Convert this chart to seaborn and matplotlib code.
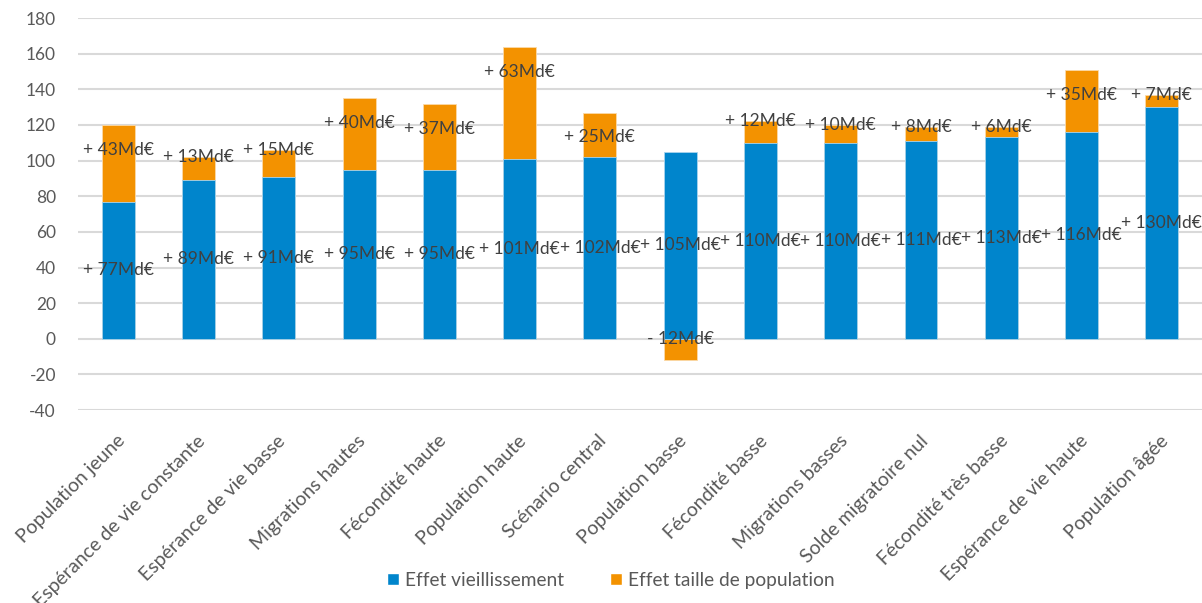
import numpy as np
import pandas as pd
import matplotlib
matplotlib.use("Agg")
import matplotlib.pyplot as plt
import matplotlib.transforms as mtransforms
from matplotlib.patches import Patch
import seaborn as sns

scenarios = [
    "Population jeune", "Espérance de vie constante", "Espérance de vie basse",
    "Migrations hautes", "Fécondité haute", "Population haute", "Scénario central",
    "Population basse", "Fécondité basse", "Migrations basses",
    "Solde migratoire nul", "Fécondité très basse", "Espérance de vie haute",
    "Population âgée",
]
effet_vieillissement = [77, 89, 91, 95, 95, 101, 102, 105, 110, 110, 111, 113, 116, 130]
effet_taille = [43, 13, 15, 40, 37, 63, 25, -12, 12, 10, 8, 6, 35, 7]
y_ticks = [-40, -20, 0, 20, 40, 60, 80, 100, 120, 140, 160, 180]

BLUE = "#0085CC"
ORANGE = "#F39200"
TEXT = "#404040"
TICK = "#595959"

sns.set_theme(style="white")
plt.rcParams["font.family"] = ["Lato", "DejaVu Sans"]
plt.rcParams["axes.unicode_minus"] = False

blue = np.array(effet_vieillissement, dtype=float)
orange = np.array(effet_taille, dtype=float)
# orange segments stack on the blue bar when positive, hang below zero when negative
orange_top = np.where(orange > 0, blue + orange, orange)

df = pd.DataFrame({"scenario": scenarios, "blue": blue, "orange_top": orange_top})

fig = plt.figure(figsize=(12.02, 6.03), dpi=100)
ax = fig.add_axes([0.065, 0.320, 0.935, 0.650])

sns.barplot(data=df, x="scenario", y="orange_top", color=ORANGE, saturation=1,
            width=0.41, ax=ax, zorder=2, edgecolor="#FBD9A8", linewidth=0.6)
sns.barplot(data=df, x="scenario", y="blue", color=BLUE, saturation=1,
            width=0.41, ax=ax, zorder=3, edgecolor="#A8D4EE", linewidth=0.6)

ax.set_ylim(-40, 180)
ax.set_xlim(-0.5, len(scenarios) - 0.5)
ax.set_yticks(y_ticks)
ax.yaxis.grid(True, color="#D9D9D9", linewidth=1.5, zorder=0)
ax.set_axisbelow(True)
for s in ax.spines.values():
    s.set_visible(False)
ax.set_xlabel("")
ax.set_ylabel("")
ax.tick_params(axis="y", length=0, pad=16, labelsize=12.5, labelcolor=TICK)
ax.tick_params(axis="x", length=0, pad=0, labelsize=14, labelcolor=TICK)

ax.set_xticks(range(len(scenarios)))
ax.set_xticklabels(scenarios, rotation=45, ha="right", rotation_mode="anchor")
shift = mtransforms.ScaledTranslation(-0.02, -0.22, fig.dpi_scale_trans)
for lab in ax.get_xticklabels():
    lab.set_transform(lab.get_transform() + shift)

# value labels
for i, (b, o) in enumerate(zip(blue, orange)):
    ax.text(i, b / 2, f"+ {int(b)}Md€", ha="center", va="center",
            fontsize=12.5, color=TEXT, zorder=5)
    if o > 0:
        y = b + o - 14 if o >= 20 else b + o
        txt = f"+ {int(o)}Md€"
    else:
        y = 0
        txt = f"- {int(abs(o))}Md€"
    ax.text(i, y, txt, ha="center", va="center", fontsize=12.5, color=TEXT, zorder=5)

handles = [Patch(facecolor=BLUE, label="Effet vieillissement"),
           Patch(facecolor=ORANGE, label="Effet taille de population")]
fig.legend(handles=handles, loc="lower center", bbox_to_anchor=(0.508, -0.005),
           ncol=2, frameon=False, fontsize=13.8, labelcolor=TICK,
           handlelength=0.65, handleheight=0.65, handletextpad=0.3, columnspacing=2.4)

fig.savefig("out.png", dpi=100)
